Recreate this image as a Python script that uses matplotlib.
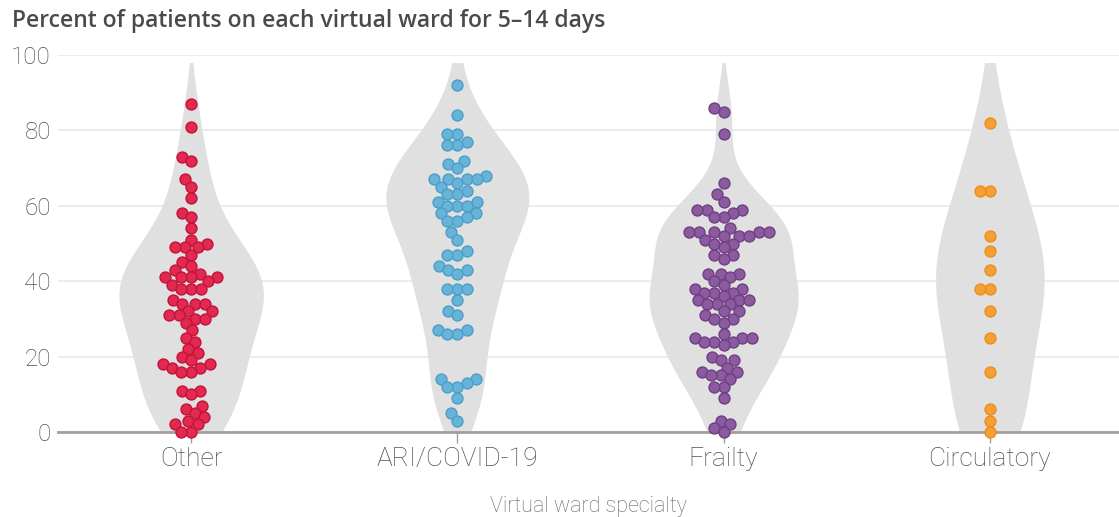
import numpy as np
import matplotlib
matplotlib.use("Agg")
import matplotlib.pyplot as plt

# ── data ────────────────────────────────────────────────────────
categories = ["Other", "ARI/COVID-19", "Frailty", "Circulatory"]

other = [87, 81, 73, 72, 67, 65, 62, 58, 57, 54, 51, 50, 49, 49, 49, 47, 45,
         44, 43, 42, 41, 41, 41, 41, 40, 39, 38, 38, 38, 35, 34, 34, 34, 32,
         32, 31, 31, 30, 30, 29, 27, 25, 24, 22, 21, 20, 19, 18, 18, 17, 17,
         16, 16, 11, 11, 10, 7, 6, 5, 4, 3, 2, 2, 0, 0]
ari = [92, 84, 79, 79, 77, 76, 76, 72, 71, 70, 68, 67, 67, 67, 67, 66, 65,
       64, 63, 63, 61, 61, 60, 60, 60, 58, 58, 57, 56, 56, 53, 51, 48, 47,
       47, 44, 43, 43, 42, 38, 38, 38, 35, 32, 31, 27, 27, 26, 26, 14, 14,
       13, 12, 12, 9, 5, 3]
frailty = [86, 85, 79, 66, 63, 61, 59, 59, 59, 58, 57, 57, 54, 53, 53, 53,
           53, 53, 52, 52, 52, 51, 50, 50, 49, 47, 47, 46, 42, 42, 42, 41,
           40, 39, 38, 38, 37, 37, 37, 36, 35, 35, 35, 34, 34, 34, 32, 32,
           31, 30, 30, 29, 26, 25, 25, 25, 24, 24, 24, 23, 20, 19, 19, 17,
           16, 16, 15, 15, 14, 12, 12, 9, 3, 2, 1, 0]
circulatory = [82, 64, 64, 52, 48, 43, 38, 38, 32, 25, 16, 6, 3, 0]

groups = [other, ari, frailty, circulatory]
fills = ["#e2294f", "#68b3d8", "#8c5b9f", "#f4a035"]
edges = ["#c4123a", "#4a9fc8", "#6f3f84", "#ec8c1c"]

title = "Percent of patients on each virtual ward for 5\u201314 days"
xlabel = "Virtual ward specialty"

W, H = 1119, 517
AX_L, AX_B, AX_T = 58, 85, 55          # axes box in px
XLIM = (-0.5, 3.485)


def beeswarm(vals, diam, px_y):
    """x offsets (px) so that circles of diameter `diam` do not collide"""
    ys = np.asarray(vals, float) * px_y
    xs = np.zeros(len(ys))
    placed = []
    for i in np.argsort(ys, kind="stable"):
        yi = ys[i]
        cands = [0.0]
        for xj, yj in placed:
            dy = yi - yj
            if abs(dy) < diam:
                dx = np.sqrt(diam ** 2 - dy ** 2)
                cands += [xj - dx, xj + dx]
        cands.sort(key=abs)
        for c in cands:
            if all((c - xj) ** 2 + (yi - yj) ** 2 >= diam ** 2 - 1e-6
                   for xj, yj in placed):
                xs[i] = c
                break
        placed.append((xs[i], yi))
    return xs


# ── figure ──────────────────────────────────────────────────────
fig = plt.figure(figsize=(W / 100, H / 100), dpi=100)
ax = fig.add_axes([AX_L / W, AX_B / H, 1 - AX_L / W, (H - AX_B - AX_T) / H])
px_x = (W - AX_L) / (XLIM[1] - XLIM[0])
px_y = (H - AX_B - AX_T) / 100

grid = np.linspace(0, 98, 400)
dens_all = []
for vals in groups:
    v = np.asarray(vals, float)
    bw = v.std(ddof=1) * len(v) ** (-1 / 5)
    d = np.exp(-0.5 * ((grid[:, None] - v[None, :]) / bw) ** 2).sum(1)
    d /= len(v) * bw * np.sqrt(2 * np.pi)
    dens_all.append(d)
k = 0.28 / max(d.max() for d in dens_all)   # common area scaling

for i, d in enumerate(dens_all):
    ax.fill_betweenx(grid, i - d * k, i + d * k, color="#e0e0e0", lw=0, zorder=1)

for i, (vals, fc, ec) in enumerate(zip(groups, fills, edges)):
    off = beeswarm(vals, 10.0, px_y) / px_x
    ax.scatter(i + off, vals, s=62, c=fc, edgecolors=ec, linewidths=1.0,
               zorder=3, clip_on=False)

ax.set_xlim(*XLIM)
ax.set_ylim(0, 100)
ax.set_yticks([0, 20, 40, 60, 80, 100])
ax.set_xticks(range(4))
ax.set_xticklabels(categories)
ax.grid(axis="y", color="#ececec", lw=1.5, zorder=0)
ax.set_axisbelow(True)
for s in ["left", "right", "top"]:
    ax.spines[s].set_visible(False)
ax.spines["bottom"].set_color("#a39e99")
ax.spines["bottom"].set_linewidth(2)
ax.spines["bottom"].set_zorder(2)
ax.tick_params(axis="y", length=0, pad=5, labelsize=17.5, labelcolor="#505050")
ax.tick_params(axis="x", length=8, width=1, color="#a39e99", pad=3,
               labelsize=19, labelcolor="#505050")
for lab in ax.get_xticklabels() + ax.get_yticklabels():
    lab.set_family("Roboto")
    lab.set_fontweight("light")
ax.set_xlabel(xlabel, fontsize=15.5, color="#666666", family="Roboto",
              fontweight="light", labelpad=18)

fig.text(12 / W, 1 - 21 / H, title, fontsize=16.5, color="#4a4a4a",
         family="Open Sans", fontweight="semibold", va="center", ha="left")

fig.savefig("out.png", dpi=100)
